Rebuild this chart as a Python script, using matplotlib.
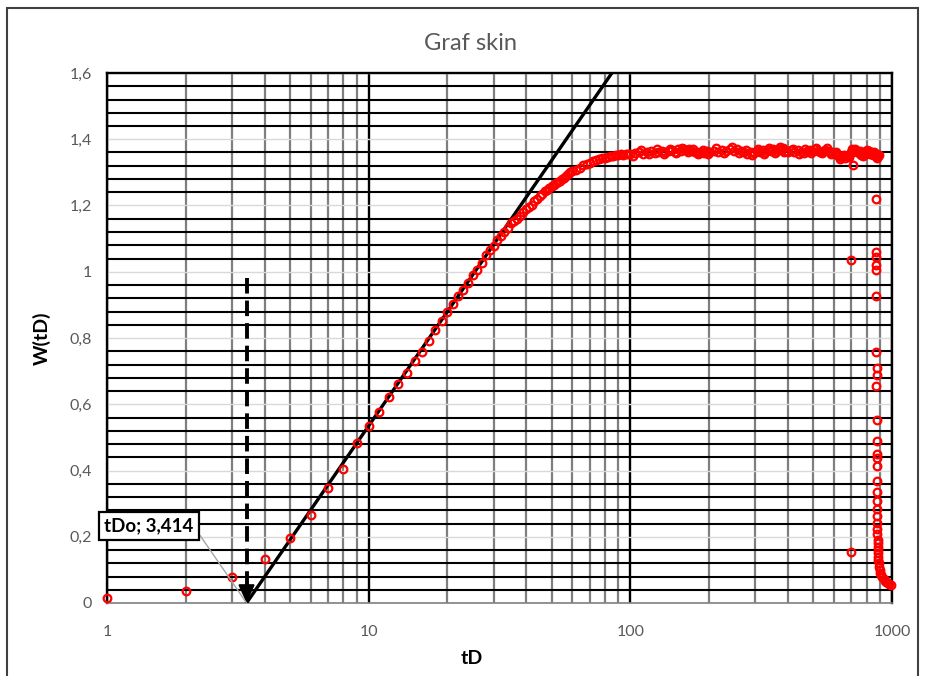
import matplotlib
matplotlib.use("Agg")
import matplotlib.pyplot as plt
from matplotlib.ticker import LogLocator, MultipleLocator, FuncFormatter, NullFormatter
from matplotlib.patches import Rectangle

plt.rcParams['font.family'] = ['Lato', 'DejaVu Sans']

# measured points (tD, W(tD))
td = [1, 2, 3, 4, 5, 6, 7, 8, 9, 10,
      11, 12, 13, 14, 15, 16, 17, 18, 19, 20,
      21, 22, 23, 24, 25, 26, 27, 28, 29, 30,
      31, 32, 33, 34, 35, 36, 37, 38, 39, 40,
      41, 42, 43, 44, 45, 46, 47, 48, 49, 50,
      51, 52, 53, 54, 55, 56, 57, 58, 59, 60,
      62, 64, 66, 68, 70, 72, 74, 76, 78, 80,
      82, 84, 86, 88, 90, 92, 94, 96, 98, 100,
      104, 108, 112, 116, 120, 124, 128, 132, 136, 140,
      144, 148, 152, 156, 160, 164, 168, 172, 176, 180,
      184, 188, 192, 196, 200,
      208, 216, 224, 232, 240, 248, 256, 264, 272, 280,
      288, 296, 304, 312, 320, 328, 336, 344, 352, 360,
      368, 376, 384, 392, 400,
      412, 424, 436, 448, 460, 472, 484, 496, 508, 520,
      532, 544, 556, 568, 580, 592, 604, 616, 628, 640,
      652, 664, 676, 688, 700, 712, 724, 736, 748, 760,
      772, 784, 796, 808, 820, 832, 844, 856, 868, 880,
      886, 890]
w = [0.015, 0.036, 0.078, 0.132, 0.195, 0.266, 0.348, 0.405, 0.484, 0.533,
     0.576, 0.621, 0.662, 0.694, 0.731, 0.759, 0.792, 0.825, 0.850, 0.880,
     0.903, 0.927, 0.946, 0.966, 0.991, 1.006, 1.026, 1.051, 1.066, 1.079,
     1.095, 1.107, 1.119, 1.132, 1.147, 1.152, 1.160, 1.167, 1.179, 1.189,
     1.196, 1.203, 1.213, 1.220, 1.229, 1.235, 1.243, 1.248, 1.254, 1.259,
     1.262, 1.267, 1.272, 1.275, 1.279, 1.284, 1.290, 1.296, 1.300, 1.304,
     1.308, 1.314, 1.321, 1.325, 1.329, 1.333, 1.337, 1.339, 1.342, 1.344,
     1.346, 1.348, 1.350, 1.351, 1.352, 1.354, 1.353, 1.355, 1.356, 1.356,
     1.358, 1.362, 1.356, 1.361, 1.364, 1.358, 1.362, 1.366, 1.360, 1.364,
     1.368, 1.362, 1.370, 1.366, 1.372, 1.367, 1.370, 1.364, 1.360, 1.363,
     1.358, 1.362, 1.359, 1.364, 1.361,
     1.366, 1.362, 1.368, 1.364, 1.370, 1.366, 1.372, 1.365, 1.360, 1.356,
     1.362, 1.358, 1.364, 1.361, 1.367, 1.363, 1.369, 1.365, 1.371, 1.366,
     1.372, 1.368, 1.373, 1.366, 1.362,
     1.367, 1.362, 1.368, 1.363, 1.359, 1.364, 1.369, 1.365, 1.370, 1.366,
     1.361, 1.365, 1.369, 1.364, 1.360, 1.362, 1.357, 1.352, 1.348, 1.345,
     1.349, 1.343, 1.350, 1.356, 1.362, 1.368, 1.372, 1.363, 1.357, 1.352,
     1.358, 1.362, 1.356, 1.361, 1.366, 1.360, 1.352, 1.356, 1.350, 1.354,
     1.348, 1.352]

# extra plateau readings (scatter around the stabilised value)
td_plateau = [102, 110, 118, 126, 134, 142, 150, 158, 166, 174, 182, 190, 198,
              212, 228, 244, 260, 276, 292, 308, 324, 340, 356, 372, 388,
              418, 442, 466, 490, 514, 538, 562, 586, 610, 634, 658, 682,
              706, 730, 754, 778, 802, 826, 850, 874]
w_plateau = [1.350, 1.368, 1.354, 1.370, 1.355, 1.372, 1.357, 1.375, 1.360, 1.371, 1.354, 1.369, 1.356,
             1.373, 1.357, 1.376, 1.359, 1.368, 1.352, 1.370, 1.356, 1.374, 1.359, 1.377, 1.360,
             1.372, 1.356, 1.370, 1.357, 1.374, 1.358, 1.373, 1.355, 1.362, 1.340, 1.352, 1.345,
             1.372, 1.366, 1.364, 1.350, 1.367, 1.355, 1.362, 1.344]

# scattered late-time points
td_tail = [707, 700, 697,
           868, 872, 872, 872, 872, 872, 872, 878, 878, 872, 878, 878,
           878, 878, 878, 878, 880, 880, 880, 880, 880, 880, 880,
           882, 884, 884, 885, 885, 886, 887, 889, 892, 896,
           902, 910, 918, 928, 940, 952, 965, 978, 990]
w_tail = [1.323, 1.036, 0.155,
          1.221, 1.061, 1.044, 1.020, 1.005, 0.927, 0.757, 0.708, 0.688, 0.656, 0.553, 0.489,
          0.449, 0.437, 0.414, 0.368, 0.336, 0.308, 0.283, 0.263, 0.243, 0.223, 0.208,
          0.190, 0.180, 0.170, 0.160, 0.150, 0.140, 0.130, 0.120, 0.110, 0.100,
          0.092, 0.085, 0.078, 0.072, 0.067, 0.063, 0.059, 0.056, 0.053]

# semilog straight line and its intercept
tDo = 3.414
line_x = [tDo, 85]
line_y = [0, 1.6]
arrow_top = 0.98

fig = plt.figure(figsize=(9.25, 6.76), dpi=100)
ax = fig.add_axes([107/925, 1 - 603/676, 785/925, 530/676])

ax.set_xscale('log')
ax.set_xlim(1, 1000)
ax.set_ylim(0, 1.6)

ax.xaxis.set_major_locator(LogLocator(base=10))
ax.xaxis.set_minor_locator(LogLocator(base=10, subs=range(2, 10)))
ax.xaxis.set_major_formatter(FuncFormatter(lambda v, p: '%d' % round(v)))
ax.xaxis.set_minor_formatter(NullFormatter())
ax.yaxis.set_major_locator(MultipleLocator(0.2))
ax.yaxis.set_minor_locator(MultipleLocator(0.04))
ax.yaxis.set_major_formatter(FuncFormatter(lambda v, p: ('%g' % round(v, 2)).replace('.', ',')))

ax.grid(True, axis='x', which='major', color='black', lw=1.7)
ax.grid(True, axis='x', which='minor', color='#7f7f7f', lw=1.6)
ax.grid(True, axis='y', which='major', color='#d9d9d9', lw=1.0)
ax.grid(True, axis='y', which='minor', color='black', lw=1.5)
ax.set_axisbelow(True)

ax.tick_params(which='both', length=0)
ax.tick_params(axis='y', pad=11, labelsize=11.5, labelcolor='#595959')
ax.tick_params(axis='x', pad=16, labelsize=11.5, labelcolor='#595959')

for s in ['top', 'left', 'right']:
    ax.spines[s].set_color('black')
    ax.spines[s].set_linewidth(1.7)
ax.spines['bottom'].set_color('#808080')
ax.spines['bottom'].set_linewidth(1.2)

mk = dict(ls='none', marker='o', mfc='none', mec='red', ms=5.5, mew=1.6, zorder=4, clip_on=False)
ax.plot(td, w, **mk)
ax.plot(td_plateau, w_plateau, **mk)
ax.plot(td_tail, w_tail, **mk)
ax.plot(line_x, line_y, color='black', lw=2.4, zorder=3)

# dashed arrow down to tDo
ax.plot([tDo, tDo], [arrow_top, 0.04], color='black', lw=2.8, ls=(0, (4, 1.8)), zorder=3)
ax.annotate('', xy=(tDo, 0), xytext=(tDo, 0.05),
            arrowprops=dict(arrowstyle='-|>,head_length=1.1,head_width=0.5',
                            color='black', lw=1.5, shrinkA=0, shrinkB=0), zorder=5)

ax.annotate(('tDo; %.3f' % tDo).replace('.', ','), xy=(tDo, 0),
            xytext=(0.0535, 0.145), textcoords='axes fraction',
            ha='center', va='center', fontsize=13.5, fontweight='bold',
            bbox=dict(boxstyle='square,pad=0.3', fc='white', ec='black', lw=1.6),
            arrowprops=dict(arrowstyle='-', color='#a6a6a6', lw=1.0,
                            relpos=(1, 0.5), shrinkA=0, shrinkB=0),
            annotation_clip=False, zorder=6)

ax.set_xlabel('tD', fontsize=14, fontweight='bold')
ax.set_ylabel('W(tD)', fontsize=14, fontweight='bold')
ax.xaxis.set_label_coords(0.465, -0.088)
ax.yaxis.set_label_coords(-0.072, 0.5)

fig.text(470/925, 1 - 43/676, 'Graf skin', ha='center', va='center',
         fontsize=17, color='#595959')

fig.patches.append(Rectangle((7/925, -0.02), 911/925, 1 - 8/676 + 0.02,
                             transform=fig.transFigure, fill=False,
                             ec='#404040', lw=1.5))

fig.savefig('out.png', dpi=100)
